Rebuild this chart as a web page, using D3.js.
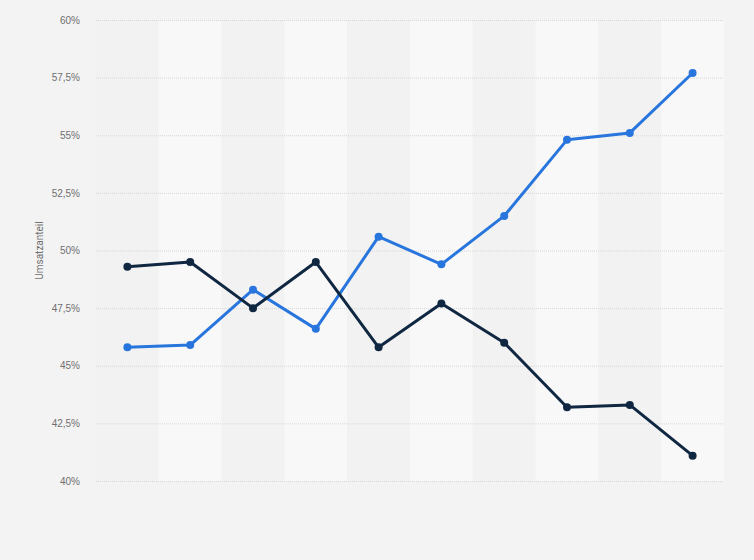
<!DOCTYPE html>
<html>
<head>
<meta charset="utf-8">
<script src="https://cdn.jsdelivr.net/npm/d3@7"></script>
<style>
  body { margin: 0; background: #f3f3f3; }
  svg { display: block; font-family: Roboto, "Open Sans", Arial, sans-serif; }
</style>
</head>
<body>
<svg id="chart"></svg>
<script>
// data (no category labels are shown)
var categories = ["1", "2", "3", "4", "5", "6", "7", "8", "9", "10"];
var seriesBlue = [45.8, 45.9, 48.3, 46.6, 50.6, 49.4, 51.5, 54.8, 55.1, 57.7];
var seriesDark = [49.3, 49.5, 47.5, 49.5, 45.8, 47.7, 46.0, 43.2, 43.3, 41.1];
var yTicks = [40, 42.5, 45, 47.5, 50, 52.5, 55, 57.5, 60];

// set the dimensions and margins of the graph
var margin = {top: 20, right: 30, bottom: 79, left: 96},
    width = 754 - margin.left - margin.right,
    height = 560 - margin.top - margin.bottom;

var svg = d3.select("#chart")
    .attr("width", width + margin.left + margin.right)
    .attr("height", height + margin.top + margin.bottom);

var g = svg.append("g")
    .attr("transform", "translate(" + margin.left + "," + margin.top + ")");

var x = d3.scaleBand()
  .domain(categories)
  .range([0, width]);

var y = d3.scaleLinear()
  .domain([40, 60])
  .range([height, 0]);

// alternating column bands
g.selectAll("rect.band")
  .data(categories)
  .enter()
  .append("rect")
    .attr("class", "band")
    .attr("x", function(d) { return x(d); })
    .attr("y", 0)
    .attr("width", x.bandwidth())
    .attr("height", height)
    .attr("fill", function(d, i) { return i % 2 ? "#f8f8f8" : "#f2f2f2"; });

// y axis with dotted grid lines
var fmt = function(d) { return String(d).replace(".", ",") + "%"; };
var yAxis = g.append("g")
  .call(d3.axisLeft(y).tickValues(yTicks).tickSize(-width).tickFormat(fmt));
yAxis.select(".domain").remove();
yAxis.selectAll(".tick line")
  .attr("stroke", "#d6d6d6")
  .attr("stroke-dasharray", "1,1");
yAxis.selectAll(".tick text")
  .attr("x", -16)
  .attr("fill", "#707070")
  .attr("font-size", "10px");

// y label
svg.append("text")
  .attr("transform", "translate(43," + (margin.top + height / 2) + ") rotate(-90)")
  .attr("text-anchor", "middle")
  .attr("fill", "#707070")
  .attr("font-size", "10px")
  .text("Umsatzanteil");

// lines + points
var line = d3.line()
  .x(function(d, i) { return x(categories[i]) + x.bandwidth() / 2; })
  .y(function(d) { return y(d); });

[[seriesBlue, "#2876dd"], [seriesDark, "#0f2741"]].forEach(function(s) {
  g.append("path")
    .datum(s[0])
    .attr("fill", "none")
    .attr("stroke", s[1])
    .attr("stroke-width", 3)
    .attr("stroke-linejoin", "round")
    .attr("d", line);

  g.selectAll(null)
    .data(s[0])
    .enter()
    .append("circle")
      .attr("cx", function(d, i) { return x(categories[i]) + x.bandwidth() / 2; })
      .attr("cy", function(d) { return y(d); })
      .attr("r", 4)
      .attr("fill", s[1]);
});
</script>
</body>
</html>
